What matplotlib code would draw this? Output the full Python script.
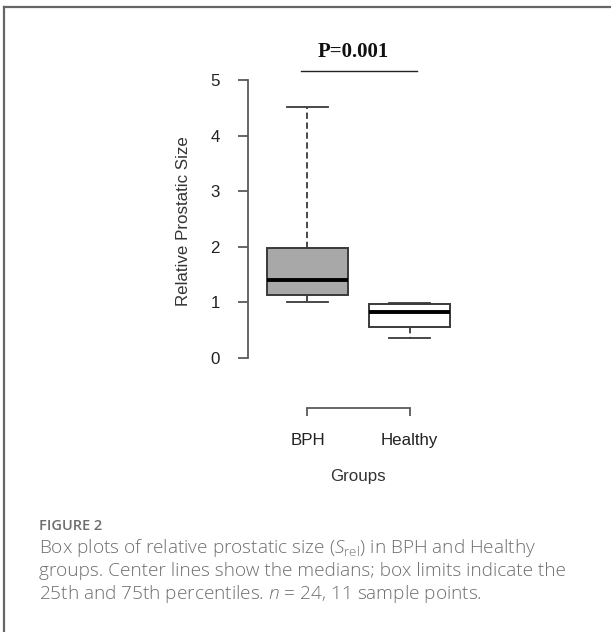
import matplotlib
matplotlib.use("Agg")
import matplotlib.pyplot as plt
from matplotlib.lines import Line2D

# ---- data ----
groups = ["BPH", "Healthy"]
whisker_low = [1.01, 0.36]
q1 = [1.12, 0.56]
medians = [1.40, 0.82]
q3 = [1.97, 0.96]
whisker_high = [4.52, 0.99]
y_ticks = [0, 1, 2, 3, 4, 5]
p_label = "P=0.001"

plt.rcParams['mathtext.fontset'] = 'custom'
plt.rcParams['mathtext.rm'] = 'Open Sans:light'
plt.rcParams['mathtext.it'] = 'Open Sans:italic:light'

W, H = 611, 632
fig = plt.figure(figsize=(W / 100, H / 100), dpi=100)
fig.patch.set_facecolor("white")

def fx(px):
    return px / W

def fy(py):
    return 1 - py / H

ax = fig.add_axes([fx(247.7), fy(408), (470 - 247.7) / W, (408 - 40) / H])
ax.set_xlim(0.414, 2.593)
ax.set_ylim(-0.906, 5.72)

stats = []
for i, g in enumerate(groups):
    stats.append(dict(label=g, whislo=whisker_low[i], q1=q1[i], med=medians[i],
                      q3=q3[i], whishi=whisker_high[i], fliers=[]))

axis_col = "#5a5a5a"
line_col = "#3a3a3a"
positions = list(range(1, len(groups) + 1))
bp = ax.bxp(stats, positions=positions, widths=0.8, capwidths=0.4,
            patch_artist=True, showfliers=False,
            boxprops=dict(edgecolor=line_col, linewidth=1.4),
            whiskerprops=dict(color=line_col, linewidth=1.3, linestyle=(0, (3.5, 2))),
            capprops=dict(color=line_col, linewidth=1.3),
            medianprops=dict(color="#000000", linewidth=2.8, solid_capstyle="butt"))
fills = ["#a8a8a8", "#ffffff"]
for patch, c in zip(bp["boxes"], fills):
    patch.set_facecolor(c)

for s in ["top", "right"]:
    ax.spines[s].set_visible(False)
ax.spines["left"].set_bounds(0, 5)
ax.spines["bottom"].set_bounds(1, 2)
for s in ["left", "bottom"]:
    ax.spines[s].set_color(axis_col)
    ax.spines[s].set_linewidth(1.3)

ax.set_yticks(y_ticks)
ax.set_yticklabels([str(t) for t in y_ticks])
ax.set_xticks(positions)
ax.set_xticklabels(groups)
ax.tick_params(axis="y", length=7.2, width=1.3, color=axis_col, pad=13,
               labelsize=12.2, labelcolor="#222222")
ax.tick_params(axis="x", length=5.8, width=1.3, color=axis_col, pad=12,
               labelsize=12.2, labelcolor="#222222")
for lab in ax.get_xticklabels() + ax.get_yticklabels():
    lab.set_fontfamily("Liberation Sans")
ax.patch.set_alpha(0)

fig.text(fx(183), fy(221), "Relative Prostatic Size", rotation=90, ha="center",
         va="center", fontsize=12.2, family="Liberation Sans", color="#333333")
fig.text(fx(358), fy(476.7), "Groups", ha="center", va="center", fontsize=12.2,
         family="Liberation Sans", color="#333333")

# significance annotation
ax.plot([0.936, 2.074], [5.162, 5.162], color="#222222", lw=1.0, clip_on=False)
ax.text(1.45, 5.51, p_label, ha="center", va="center", fontsize=15,
        family="Liberation Serif", fontweight="bold", color="#111111")

# frame lines (top and left)
fig.add_artist(Line2D([fx(4), 1.0], [fy(7), fy(7)], color="#666666", lw=1.6,
                      transform=fig.transFigure))
fig.add_artist(Line2D([fx(4), fx(4)], [fy(7), 0.0], color="#666666", lw=1.6,
                      transform=fig.transFigure))

cap_col = "#6e6e6e"
fig.text(fx(39), fy(530), "FIGURE 2", fontsize=10.5, family="Open Sans",
         fontweight="semibold", color=cap_col, va="baseline")
lines = [
    r"Box plots of relative prostatic size ($S_{\mathrm{rel}}$) in BPH and Healthy",
    "groups. Center lines show the medians; box limits indicate the",
    r"25th and 75th percentiles. $n$ = 24, 11 sample points.",
]
for k, t in enumerate(lines):
    fig.text(fx(39), fy(553 + 23 * k), t, fontsize=13.65, family="Open Sans",
             fontweight="light", color=cap_col, va="baseline")

fig.savefig("out.png", dpi=100, facecolor="white")
